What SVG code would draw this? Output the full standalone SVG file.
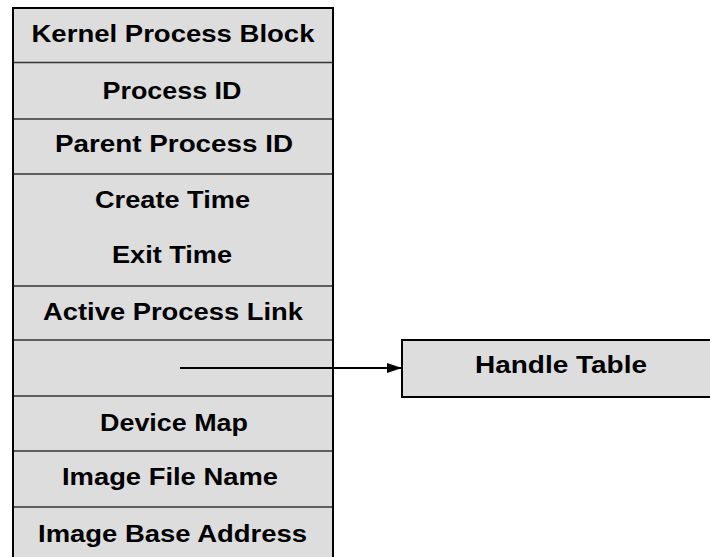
<svg xmlns="http://www.w3.org/2000/svg" width="710" height="557" viewBox="0 0 710 557">
<style>
.cell{fill:#dddddd;stroke:none}
.div{stroke:#333333;stroke-width:1.5;fill:none}
.outer{fill:none;stroke:#000000;stroke-width:2}
.lbl{font-family:"Liberation Sans",Arial,sans-serif;font-weight:bold;font-size:23px;fill:#000000;text-anchor:middle}
.conn{stroke:#000000;stroke-width:2;fill:none}
</style>
<defs>
<marker id="arr" markerWidth="7.5" markerHeight="5" refX="7" refY="2.5" orient="auto" markerUnits="strokeWidth">
<path d="M0,0 L7.5,2.5 L0,5 Z" fill="#000000"/>
</marker>
</defs>
<rect width="710" height="557" fill="#ffffff"/>
<g id="kernel-process-block">
<rect class="cell" x="13" y="8" width="320" height="560"/>
<g id="row-kpb"><text class="lbl" x="173" y="42" textLength="283" lengthAdjust="spacingAndGlyphs">Kernel Process Block</text></g>
<line class="div" x1="13" y1="62.5" x2="333" y2="62.5"/>
<g id="row-pid"><text class="lbl" x="172" y="99" textLength="139" lengthAdjust="spacingAndGlyphs">Process ID</text></g>
<line class="div" x1="13" y1="119" x2="333" y2="119"/>
<g id="row-ppid"><text class="lbl" x="174" y="152" textLength="238" lengthAdjust="spacingAndGlyphs">Parent Process ID</text></g>
<line class="div" x1="13" y1="174" x2="333" y2="174"/>
<g id="row-times">
<text class="lbl" x="172.5" y="208" textLength="155" lengthAdjust="spacingAndGlyphs">Create Time</text>
<text class="lbl" x="172" y="263" textLength="120" lengthAdjust="spacingAndGlyphs">Exit Time</text>
</g>
<line class="div" x1="13" y1="286" x2="333" y2="286"/>
<g id="row-apl"><text class="lbl" x="173" y="320" textLength="260" lengthAdjust="spacingAndGlyphs">Active Process Link</text></g>
<line class="div" x1="13" y1="340" x2="333" y2="340"/>
<g id="row-handle"></g>
<line class="div" x1="13" y1="396" x2="333" y2="396"/>
<g id="row-devmap"><text class="lbl" x="174" y="431" textLength="148" lengthAdjust="spacingAndGlyphs">Device Map</text></g>
<line class="div" x1="13" y1="451" x2="333" y2="451"/>
<g id="row-ifn"><text class="lbl" x="170" y="485" textLength="216" lengthAdjust="spacingAndGlyphs">Image File Name</text></g>
<line class="div" x1="13" y1="507" x2="333" y2="507"/>
<g id="row-iba"><text class="lbl" x="172.5" y="542" textLength="269" lengthAdjust="spacingAndGlyphs">Image Base Address</text></g>
<rect class="outer" x="13" y="8" width="320" height="560"/>
</g>
<g id="handle-table">
<rect x="402" y="340" width="320" height="57" fill="#dddddd" stroke="#000000" stroke-width="2"/>
<text class="lbl" x="561" y="373" textLength="172" lengthAdjust="spacingAndGlyphs">Handle Table</text>
</g>
<g id="connectors">
<line class="conn" x1="180" y1="368" x2="401" y2="368" marker-end="url(#arr)"/>
</g>
</svg>
